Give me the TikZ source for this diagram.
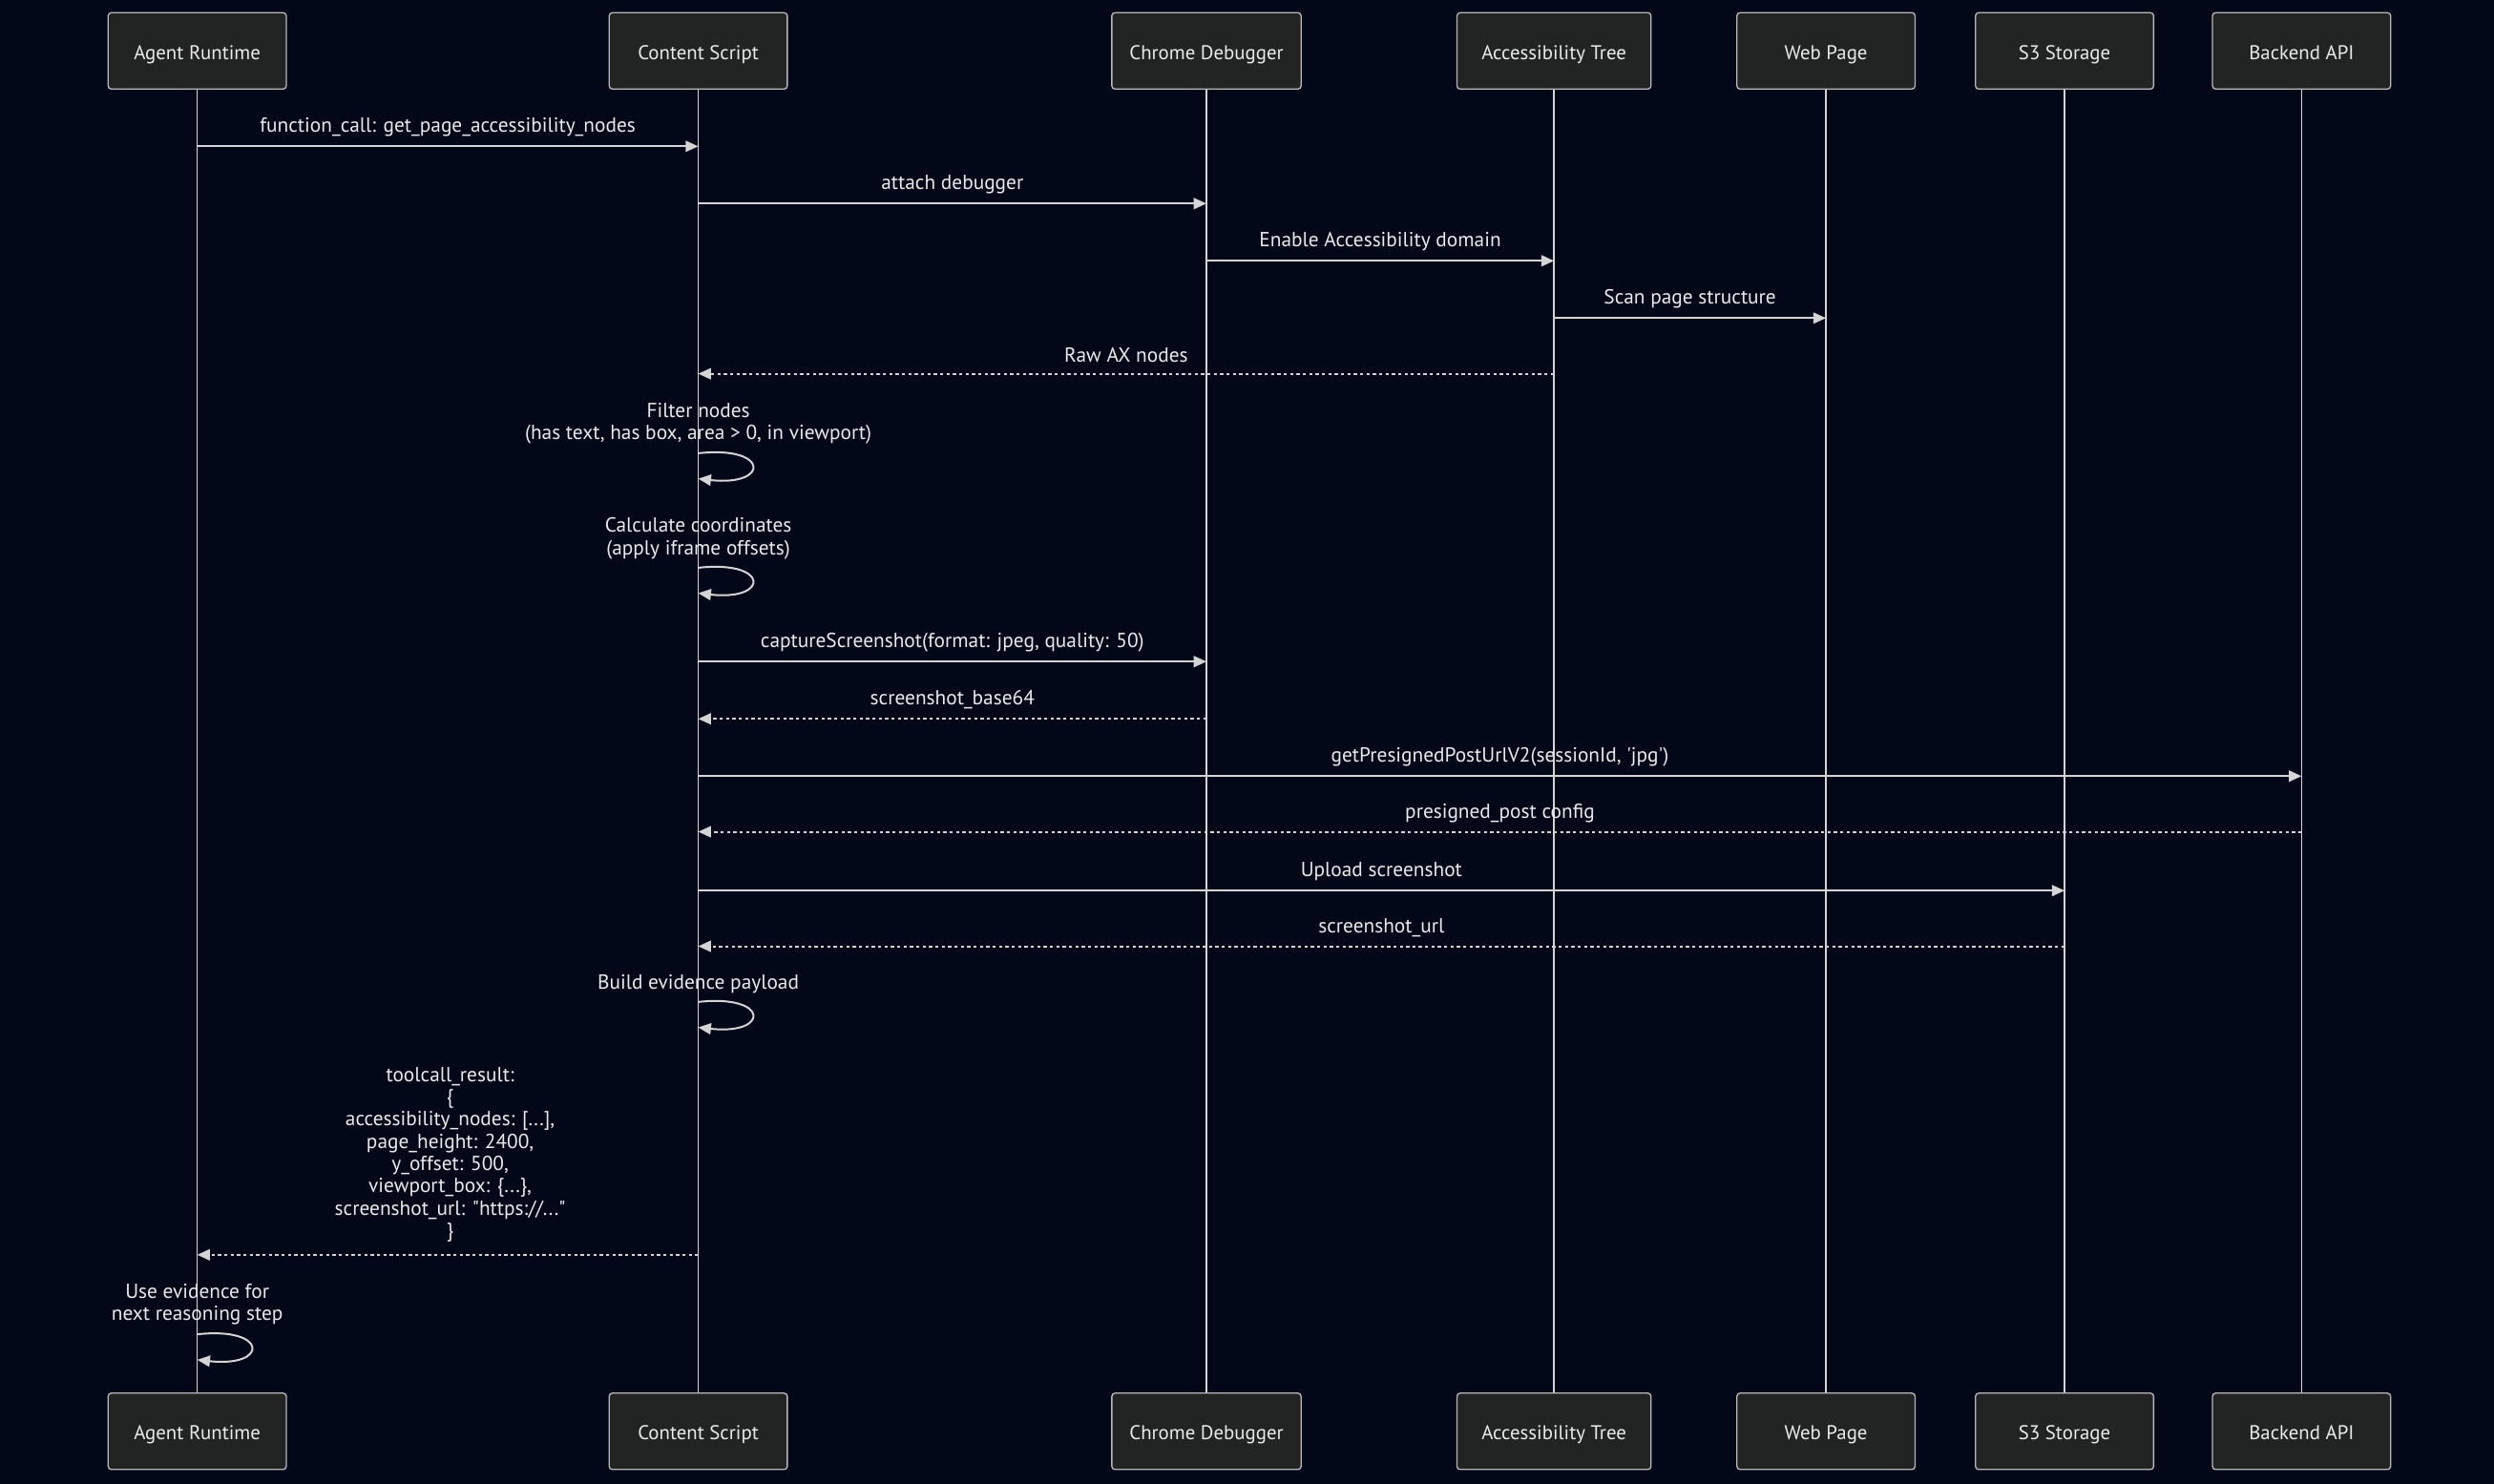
\documentclass[tikz,border=0pt]{standalone}
\usepackage{fontspec}
\setmainfont{PT Sans}
\usetikzlibrary{arrows.meta}
\definecolor{bg}{HTML}{020817}
\definecolor{boxfill}{HTML}{222323}
\definecolor{boxline}{HTML}{B8B8B8}
\definecolor{ln}{HTML}{D4D4D4}
\definecolor{txt}{HTML}{EAEAEA}
\tikzset{
  actor/.style={draw=boxline, fill=boxfill, rounded corners=2pt, line width=0.8pt,
    minimum width=112pt, minimum height=48pt, text=txt, inner sep=0pt,
    text height=11pt, text depth=0pt,
    font=\fontsize{12.5}{14}\selectfont},
  life/.style={draw=ln, line width=1pt},
  msg/.style={draw=ln, line width=1.2pt, -{Triangle[length=8pt,width=7pt]}},
  ret/.style={msg, dash pattern=on 2pt off 2pt},
  lbl/.style={text=txt, font=\fontsize{12.8}{14}\selectfont, align=center, inner sep=0pt}
}
\begin{document}
\begin{tikzpicture}[x=1pt,y=-1pt]
\fill[bg] (0,0) rectangle (1568,933);
\useasboundingbox (0,0) rectangle (1568,933);
% actors top
\node[actor] (aT) at (124,32) {Agent Runtime};
\node[actor] (cT) at (439,32) {Content Script};
\node[actor, minimum width=119pt] (dT) at (758.5,32) {Chrome Debugger};
\node[actor, minimum width=122pt] (tT) at (977,32) {Accessibility Tree};
\node[actor] (wT) at (1148,32) {Web Page};
\node[actor] (sT) at (1298,32) {S3 Storage};
\node[actor] (bT) at (1447,32) {Backend API};
% actors bottom
\node[actor] (aB) at (124,900) {Agent Runtime};
\node[actor] (cB) at (439,900) {Content Script};
\node[actor, minimum width=119pt] (dB) at (758.5,900) {Chrome Debugger};
\node[actor, minimum width=122pt] (tB) at (977,900) {Accessibility Tree};
\node[actor] (wB) at (1148,900) {Web Page};
\node[actor] (sB) at (1298,900) {S3 Storage};
\node[actor] (bB) at (1447,900) {Backend API};
% lifelines
\foreach \n in {a,c,d,t,w,s,b} \draw[life] (\n T) -- (\n B);
% rows
\coordinate (r1) at (0,92);
\coordinate (r2) at (0,128);
\coordinate (r3) at (0,164);
\coordinate (r4) at (0,200);
\coordinate (r5) at (0,235);
\coordinate (r6a) at (0,285);
\coordinate (r6b) at (0,301);
\coordinate (l6) at (0,266.5);
\coordinate (r7a) at (0,357);
\coordinate (r7b) at (0,373);
\coordinate (l7) at (0,338.5);
\coordinate (r8) at (0,416);
\coordinate (r9) at (0,452);
\coordinate (r10) at (0,488);
\coordinate (r11) at (0,523);
\coordinate (r12) at (0,560);
\coordinate (r13) at (0,595);
\coordinate (r14a) at (0,630);
\coordinate (r14b) at (0,646);
\coordinate (l14) at (0,619);
\coordinate (r15) at (0,789);
\coordinate (l15) at (283,726);
\coordinate (r16a) at (0,839);
\coordinate (r16b) at (0,855);
\coordinate (l16) at (0,820);
% messages
\draw[msg] (aT |- r1) -- node[lbl, yshift=12pt] {function\_call: get\_page\_accessibility\_nodes} (cT |- r1);
\draw[msg] (cT |- r2) -- node[lbl, yshift=12pt] {attach debugger} (dT |- r2);
\draw[msg] (dT |- r3) -- node[lbl, yshift=12pt] {Enable Accessibility domain} (tT |- r3);
\draw[msg] (tT |- r4) -- node[lbl, yshift=12pt] {Scan page structure} (wT |- r4);
\draw[ret] (tT |- r5) -- node[lbl, yshift=12pt] {Raw AX nodes} (cT |- r5);
\node[lbl] (n6) at (cT |- l6) {Filter nodes\\(has text, has box, area > 0, in viewport)};
\draw[msg] (cT |- r6a) .. controls +(45,-5) and +(45,5) .. (cT |- r6b);
\node[lbl] (n7) at (cT |- l7) {Calculate coordinates\\(apply iframe offsets)};
\draw[msg] (cT |- r7a) .. controls +(45,-5) and +(45,5) .. (cT |- r7b);
\draw[msg] (cT |- r8) -- node[lbl, yshift=12pt] {captureScreenshot(format: jpeg, quality: 50)} (dT |- r8);
\draw[ret] (dT |- r9) -- node[lbl, yshift=12pt] {screenshot\_base64} (cT |- r9);
\draw[msg] (cT |- r10) -- node[lbl, yshift=12pt] {getPresignedPostUrlV2(sessionId, \textquotesingle jpg\textquotesingle)} (bT |- r10);
\draw[ret] (bT |- r11) -- node[lbl, yshift=11.5pt] {presigned\_post config} (cT |- r11);
\draw[msg] (cT |- r12) -- node[lbl, yshift=12pt] {Upload screenshot} (sT |- r12);
\draw[ret] (sT |- r13) -- node[lbl, yshift=11.5pt] {screenshot\_url} (cT |- r13);
\node[lbl] (n14) at (cT |- l14) {Build evidence payload};
\draw[msg] (cT |- r14a) .. controls +(45,-5) and +(45,5) .. (cT |- r14b);
\node[lbl] (n15) at (l15) {toolcall\_result:\\\{\\accessibility\_nodes: [...],\\page\_height: 2400,\\y\_offset: 500,\\viewport\_box: \{...\},\\screenshot\_url: \textquotedbl https://...\textquotedbl\\\}};
\draw[ret] (cT |- r15) -- (aT |- r15);
\node[lbl] (n16) at (aT |- l16) {Use evidence for\\next reasoning step};
\draw[msg] (aT |- r16a) .. controls +(45,-5) and +(45,5) .. (aT |- r16b);
\end{tikzpicture}
\end{document}
